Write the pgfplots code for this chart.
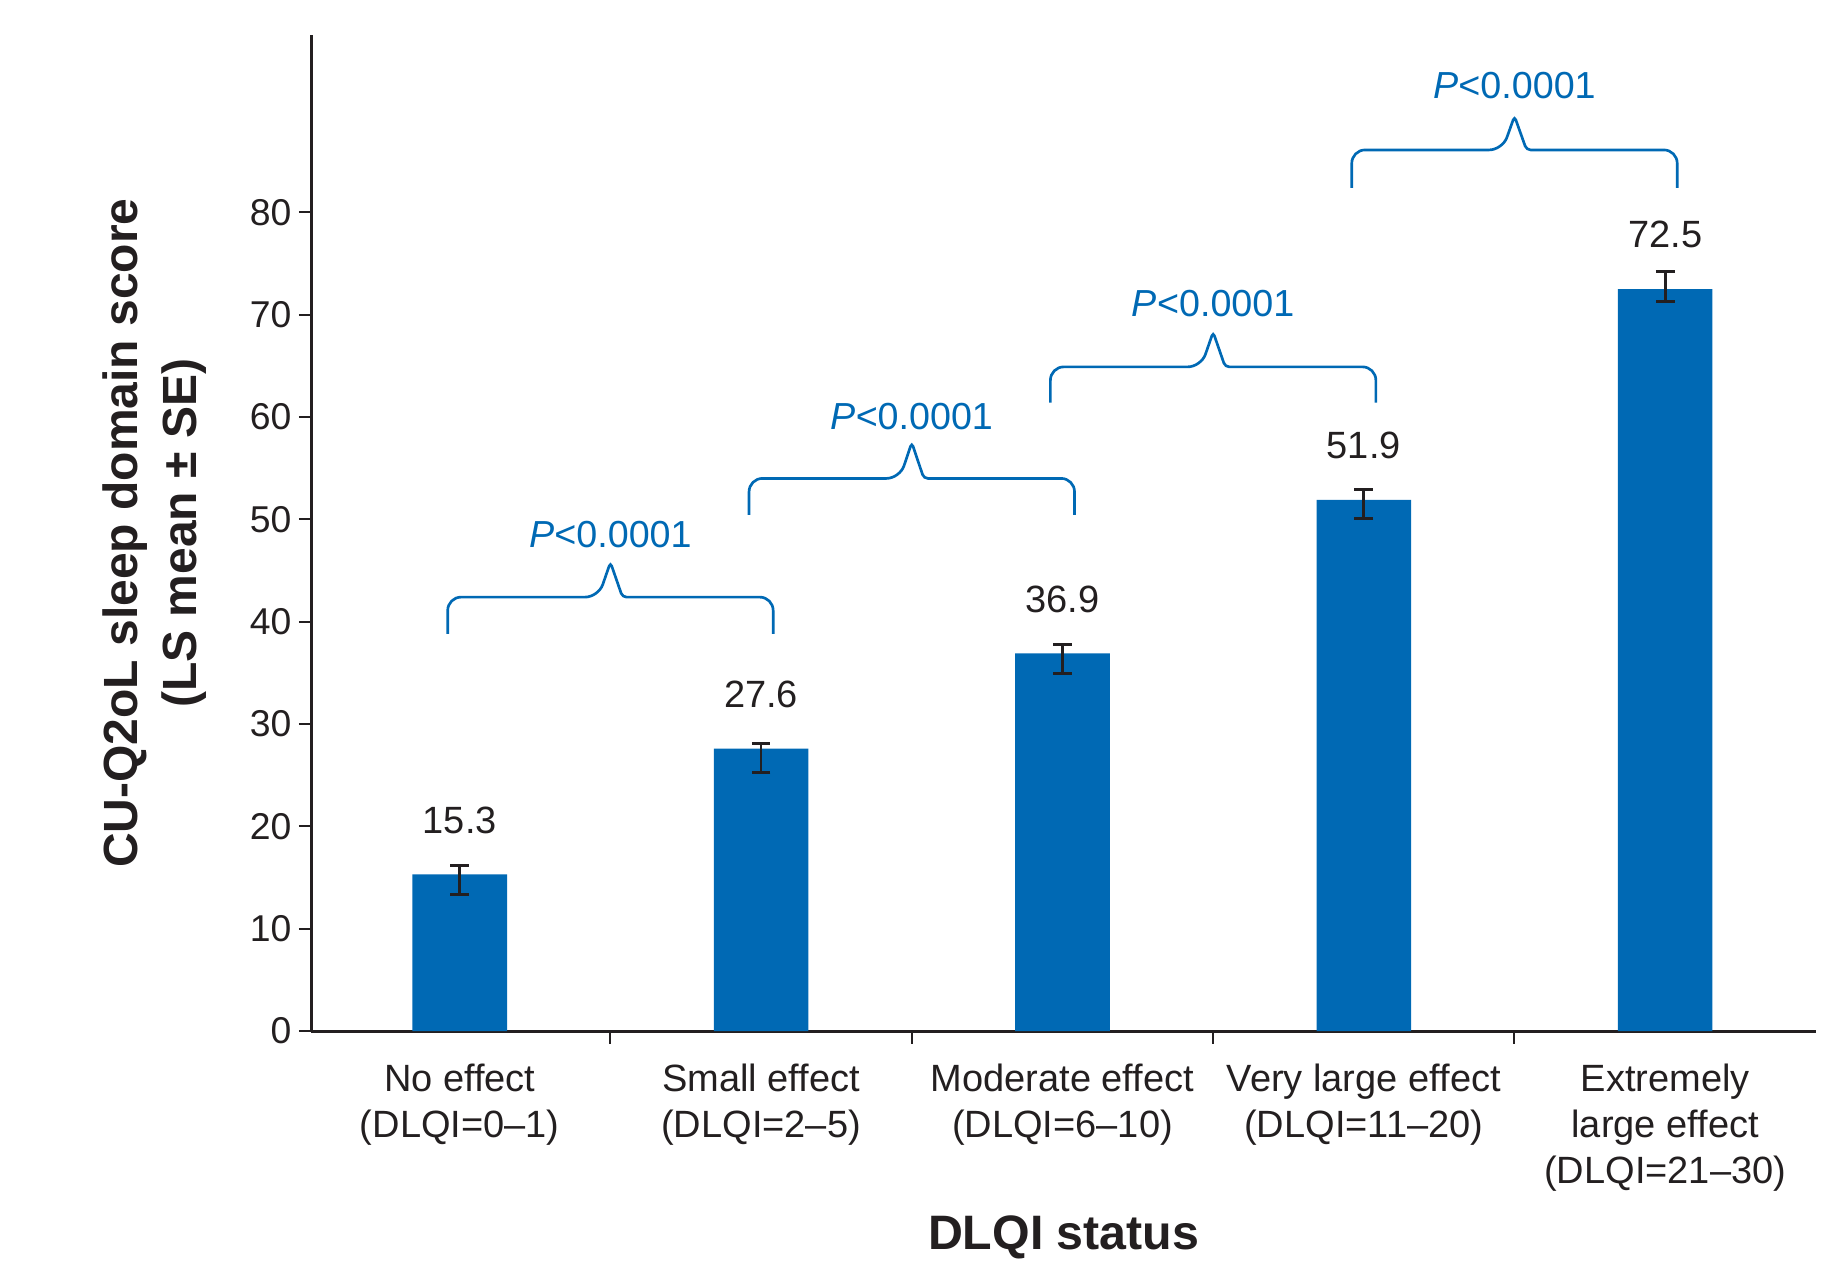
\documentclass[border=0pt]{standalone}
\usepackage{pgfplots}
\pgfplotsset{compat=1.18}
\usepackage{pgfplotstable}
\usepackage{fontspec}
\setmainfont{Liberation Sans}
\definecolor{bcol}{RGB}{0,105,180}
\definecolor{tcol}{RGB}{35,31,32}

\pgfplotstableread{
x y ep em lab
0 15.3 0.85 1.96 15.3
1 27.6 0.46 2.38 27.6
2 36.9 0.85 2.00 36.9
3 51.9 1.04 1.78 51.9
4 72.5 1.73 1.20 72.5
}\datatable

\newcommand{\pbrace}[7]{%
  \draw[bcol, line width=0.8pt, rounded corners=4pt]
    (axis cs:#1,#4) -- (axis cs:#1,#5) -- (axis cs:#3-0.04,#5)
    [rounded corners=1.2pt] -- (axis cs:#3,#6) -- (axis cs:#3+0.04,#5)
    [rounded corners=4pt] -- (axis cs:#2,#5) -- (axis cs:#2,#4);
  \node[text=bcol, font=\fontsize{11.3}{13}\selectfont, anchor=center] at (axis cs:#3,#7) {\textit{P}<0.0001};
}

\begin{document}
\begin{tikzpicture}
\begin{axis}[
  scale only axis, width=451.3pt, height=298.7pt,
  xmin=-0.492, xmax=4.5, ymin=0, ymax=97.3,
  clip=false,
  axis lines=left,
  axis line style={-, line width=0.9pt, tcol},
  tick align=outside,
  major tick length=3.8pt,
  tick style={line width=0.6pt, tcol},
  ytick={0,10,...,80},
  xtick={0.5,1.5,2.5,3.5},
  xticklabels={},
  extra x ticks={0,1,2,3,4},
  extra x tick labels={{No effect\\(DLQI=0–1)},{Small effect\\(DLQI=2–5)},{Moderate effect\\(DLQI=6–10)},{Very large effect\\(DLQI=11–20)},{Extremely\\large effect\\(DLQI=21–30)}},
  extra x tick style={tick style={draw=none}},
  xticklabel style={align=center, anchor=north, inner sep=0pt, yshift=-6pt, font=\fontsize{11.4}{13.8}\selectfont, text=tcol},
  yticklabel style={inner sep=0pt, anchor=east, xshift=-2pt, font=\fontsize{11.2}{13}\selectfont, text=tcol},
  /pgf/number format/assume math mode=true,
  ylabel={CU-Q2oL sleep domain score\\(LS mean ± SE)},
  every axis y label/.style={at={(axis description cs:-0.1045,0.5)}, rotate=90, anchor=center, align=center, font=\bfseries\fontsize{14.4}{17.7}\selectfont, text=tcol},
  xlabel={DLQI status},
  every axis x label/.style={at={(axis description cs:0.5,-0.2075)}, anchor=center, font=\bfseries\fontsize{14.5}{17}\selectfont, text=tcol},
]
\addplot[ybar, bar width=0.314, fill=bcol, draw=none,
  nodes near coords, point meta=explicit symbolic,
  nodes near coords style={anchor=center, yshift=16.3pt, font=\fontsize{11.4}{13}\selectfont, text=tcol},
  error bars/.cd, y dir=both, y explicit,
  error mark options={rotate=90, mark size=2.8pt, line width=0.9pt, tcol},
  error bar style={line width=0.8pt, tcol}]
  table[x=x, y=y, y error plus=ep, y error minus=em, meta=lab] {\datatable};
\pbrace{-0.04}{1.04}{0.5}{38.8}{42.4}{45.8}{48.5}
\pbrace{0.96}{2.04}{1.5}{50.45}{54.0}{57.5}{60.0}
\pbrace{1.96}{3.04}{2.5}{61.4}{64.9}{68.3}{71.1}
\pbrace{2.96}{4.04}{3.5}{82.4}{86.1}{89.4}{92.4}
\end{axis}
\pgfresetboundingbox
\path (-93.45pt,-68.7pt) rectangle (459.45pt,309.3pt);
\end{tikzpicture}
\end{document}
